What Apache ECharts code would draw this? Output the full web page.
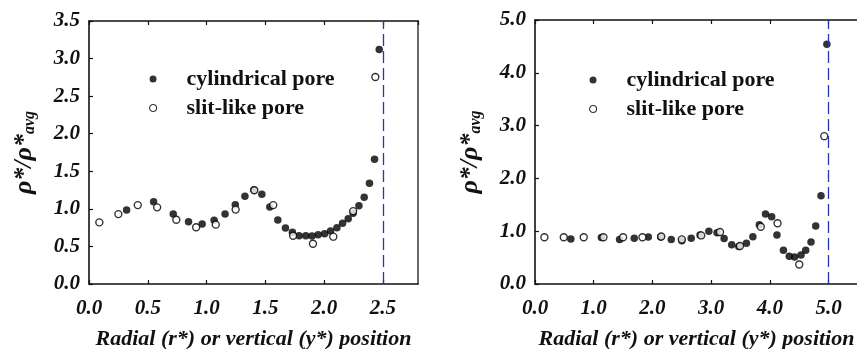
<!DOCTYPE html>
<html>
<head>
<meta charset="utf-8">
<script src="https://cdn.jsdelivr.net/npm/echarts@6/dist/echarts.min.js"></script>
<style>
  html, body { margin: 0; padding: 0; background: #fff; }
  #chart { width: 857px; height: 349px; }
</style>
</head>
<body>
<div id="chart"></div>
<script>
// Reduced density profiles rho*/rho*_avg across the pore
// Left: pore radius 2.5, right: pore radius / half-width 5.0

const seriesNames = ['cylindrical pore', 'slit-like pore'];

// Left panel, [position, rho*/rho*avg]
const leftCylindrical = [
  [0.32, 0.985], [0.55, 1.095], [0.717, 0.93], [0.847, 0.83], [0.963, 0.80],
  [1.065, 0.848], [1.158, 0.93], [1.245, 1.055], [1.327, 1.167], [1.403, 1.25],
  [1.471, 1.194], [1.539, 1.025], [1.607, 0.852], [1.672, 0.745], [1.731, 0.688],
  [1.788, 0.643], [1.845, 0.643], [1.898, 0.64], [1.95, 0.655], [2.005, 0.67],
  [2.056, 0.705], [2.11, 0.75], [2.158, 0.81], [2.206, 0.87], [2.248, 0.94],
  [2.297, 1.04], [2.342, 1.155], [2.387, 1.34], [2.43, 1.66], [2.47, 3.12]
];
const leftSlit = [
  [0.088, 0.82], [0.25, 0.93], [0.415, 1.05], [0.58, 1.02], [0.743, 0.856],
  [0.912, 0.755], [1.079, 0.79], [1.248, 0.99], [1.407, 1.247], [1.568, 1.05],
  [1.737, 0.643], [1.906, 0.535], [2.079, 0.63], [2.248, 0.97], [2.437, 2.755]
];

// Right panel, [position, rho*/rho*avg]
const rightCylindrical = [
  [0.61, 0.85], [1.13, 0.88], [1.44, 0.845], [1.69, 0.865], [1.93, 0.89],
  [2.14, 0.89], [2.32, 0.845], [2.50, 0.82], [2.66, 0.865], [2.81, 0.93],
  [2.96, 1.00], [3.10, 0.97], [3.22, 0.86], [3.35, 0.745], [3.47, 0.71],
  [3.60, 0.77], [3.71, 0.895], [3.82, 1.12], [3.925, 1.325], [4.03, 1.275],
  [4.12, 0.93], [4.23, 0.64], [4.33, 0.525], [4.42, 0.51], [4.53, 0.55],
  [4.61, 0.64], [4.70, 0.795], [4.78, 1.10], [4.87, 1.67], [4.97, 4.54]
];
const rightSlit = [
  [0.16, 0.885], [0.49, 0.885], [0.83, 0.885], [1.165, 0.885], [1.50, 0.885],
  [1.83, 0.885], [2.15, 0.90], [2.50, 0.845], [2.83, 0.92], [3.15, 0.985],
  [3.49, 0.72], [3.845, 1.085], [4.13, 1.15], [4.50, 0.37], [4.925, 2.80]
];

// Pore wall positions (dashed lines)
const leftWall = 2.5;
const rightWall = 5.0;

// Axis ranges
const leftX = { min: 0, max: 2.8, interval: 0.5 };
const leftY = { min: 0, max: 3.5, interval: 0.5 };
const rightX = { min: 0, max: 5.5, interval: 1 };
const rightY = { min: 0, max: 5, interval: 1 };

const serif = "'Liberation Serif', 'Times New Roman', Times, serif";
const ink = '#111';

const tickLabel = {
  fontFamily: serif, fontSize: 21, fontWeight: 'bold', fontStyle: 'italic',
  color: ink, formatter: v => v.toFixed(1)
};

function bottomAxis(grid, r) {
  return {
    type: 'value', gridIndex: grid, position: 'bottom',
    min: r.min, max: r.max, interval: r.interval,
    axisLine: { show: true, lineStyle: { color: ink, width: 1.6 } },
    axisTick: { show: true, inside: true, length: 4, lineStyle: { color: ink, width: 1.2 } },
    axisLabel: Object.assign({ margin: 14, showMaxLabel: r.max % r.interval === 0 }, tickLabel),
    splitLine: { show: false },
    name: 'Radial (r*) or vertical (y*) position',
    nameLocation: 'middle', nameGap: 44,
    nameTextStyle: { fontFamily: serif, fontSize: 22, fontWeight: 'bold', fontStyle: 'italic', color: ink }
  };
}
function topAxis(grid, r) {
  return {
    type: 'value', gridIndex: grid, position: 'top',
    min: r.min, max: r.max, interval: r.interval,
    axisLine: { show: true, onZero: false, lineStyle: { color: ink, width: 1.6 } },
    axisTick: { show: true, inside: true, length: 4, lineStyle: { color: ink, width: 1.2 } },
    axisLabel: { show: false }, splitLine: { show: false }
  };
}
function leftAxis(grid, r) {
  return {
    type: 'value', gridIndex: grid, position: 'left',
    min: r.min, max: r.max, interval: r.interval,
    axisLine: { show: true, onZero: false, lineStyle: { color: ink, width: 1.6 } },
    axisTick: { show: true, inside: true, length: 4, lineStyle: { color: ink, width: 1.2 } },
    axisLabel: Object.assign({ margin: 9 }, tickLabel),
    splitLine: { show: false },
    name: '{m|ρ*/ρ*}{s|avg}',
    nameLocation: 'middle', nameRotate: 90, nameGap: 51,
    nameTextStyle: {
      rich: {
        m: { fontFamily: serif, fontSize: 26, fontWeight: 'bold', fontStyle: 'italic', color: ink },
        s: { fontFamily: serif, fontSize: 16, fontWeight: 'bold', fontStyle: 'italic', color: ink, padding: [12, 0, 0, 0] }
      }
    }
  };
}
function rightAxis(grid, r) {
  return {
    type: 'value', gridIndex: grid, position: 'right',
    min: r.min, max: r.max, interval: r.interval,
    axisLine: { show: true, onZero: false, lineStyle: { color: '#444', width: 1.6 } },
    axisTick: { show: false }, axisLabel: { show: false }, splitLine: { show: false }
  };
}

const filledStyle = { color: '#000' };
const openStyle = { color: '#fff', borderColor: '#000', borderWidth: 1.4 };

function wallLine(x) {
  return {
    silent: true, symbol: 'none', animation: false,
    label: { show: false },
    lineStyle: { color: '#2238b4', type: [12, 5], width: 1.3 },
    data: [{ xAxis: x }]
  };
}

function legendAt(left, top) {
  return {
    orient: 'vertical', left: left, top: top, padding: 0,
    itemWidth: 7, itemHeight: 7, itemGap: 7,
    icon: 'circle',
    textStyle: { fontFamily: serif, fontSize: 22, fontWeight: 'bold', color: ink, lineHeight: 21, padding: [0, 0, 0, 25] },
    data: [
      { name: seriesNames[0], itemStyle: filledStyle },
      { name: seriesNames[1], itemStyle: { color: '#fff', borderColor: '#000', borderWidth: 1.1 } }
    ]
  };
}

const chart = echarts.init(document.getElementById('chart'), null, { renderer: 'canvas' });
chart.setOption({
  animation: false,
  backgroundColor: '#fff',
  grid: [
    { left: 89, top: 21, width: 329, bottom: 65, outerBoundsMode: 'none' },
    { left: 535, top: 20, width: 323, bottom: 65, outerBoundsMode: 'none' }
  ],
  legend: [legendAt(149, 68), legendAt(589, 69)],
  xAxis: [bottomAxis(0, leftX), topAxis(0, leftX), bottomAxis(1, rightX), topAxis(1, rightX)],
  yAxis: [leftAxis(0, leftY), rightAxis(0, leftY), leftAxis(1, rightY), rightAxis(1, rightY)],
  series: [
    { name: seriesNames[0], type: 'scatter', xAxisIndex: 0, yAxisIndex: 0, data: leftCylindrical,
      symbol: 'circle', symbolSize: 7.5, itemStyle: filledStyle, markLine: wallLine(leftWall) },
    { name: seriesNames[1], type: 'scatter', xAxisIndex: 0, yAxisIndex: 0, data: leftSlit,
      symbol: 'circle', symbolSize: 7, itemStyle: openStyle },
    { name: seriesNames[0], type: 'scatter', xAxisIndex: 2, yAxisIndex: 2, data: rightCylindrical,
      symbol: 'circle', symbolSize: 7.5, itemStyle: filledStyle, markLine: wallLine(rightWall) },
    { name: seriesNames[1], type: 'scatter', xAxisIndex: 2, yAxisIndex: 2, data: rightSlit,
      symbol: 'circle', symbolSize: 7, itemStyle: openStyle }
  ]
});
</script>
</body>
</html>
